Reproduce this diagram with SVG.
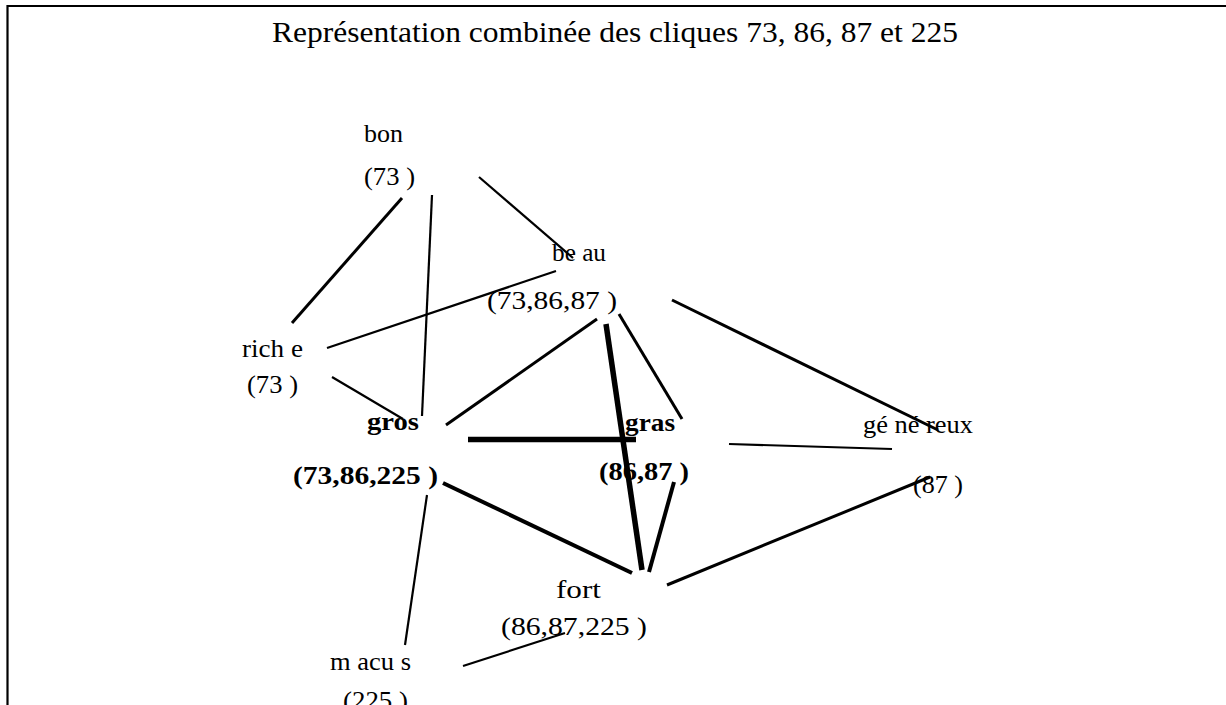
<svg xmlns="http://www.w3.org/2000/svg" width="1226" height="705" viewBox="0 0 1226 705">
<style>
text{font-family:"Liberation Serif","Times New Roman",serif;font-size:25px;fill:#000}
.b{font-weight:bold}
.t{font-size:30px}
line{stroke:#000;stroke-linecap:butt}
.w2{stroke-width:2.2}
.w3{stroke-width:3}
.w4{stroke-width:4}
.w5{stroke-width:5.5}
</style>
<rect width="1226" height="705" fill="#fff"/>
<g id="frame" fill="none" stroke="#000" stroke-width="2.2">
<polyline points="1226,6 7.5,6 7.5,705"/>
</g>
<text class="t" x="272" y="42" textLength="686" lengthAdjust="spacingAndGlyphs">Représentation combinée des cliques 73, 86, 87 et 225</text>
<g id="connectors">
<line class="w3" x1="402" y1="198" x2="292" y2="323"/>
<line class="w2" x1="432" y1="195" x2="422" y2="416"/>
<line class="w2" x1="479" y1="177" x2="573" y2="258"/>
<line class="w2" x1="327" y1="348" x2="556" y2="271"/>
<line class="w2" x1="332" y1="377" x2="403" y2="419"/>
<line class="w3" x1="597" y1="319" x2="446" y2="425"/>
<line class="w5" x1="606" y1="324" x2="642" y2="570"/>
<line class="w3" x1="619" y1="314" x2="682" y2="419"/>
<line class="w3" x1="672" y1="300" x2="938" y2="430"/>
<line class="w5" x1="468" y1="439.5" x2="636" y2="439.5"/>
<line class="w2" x1="729" y1="444" x2="892" y2="449"/>
<line class="w4" x1="443" y1="483" x2="632" y2="573"/>
<line class="w4" x1="674" y1="482" x2="649" y2="572"/>
<line class="w3" x1="667" y1="585" x2="930" y2="477"/>
<line class="w2" x1="427" y1="495" x2="405" y2="645"/>
<line class="w2" x1="463" y1="666" x2="565" y2="633"/>
</g>
<g id="bon">
<text x="364" y="142" textLength="39" lengthAdjust="spacingAndGlyphs">bon</text>
<text x="364" y="185" textLength="51" lengthAdjust="spacingAndGlyphs">(73 )</text>
</g>
<g id="beau">
<text x="552" y="261" textLength="54" lengthAdjust="spacingAndGlyphs">be au</text>
<text x="487" y="309" textLength="130" lengthAdjust="spacingAndGlyphs">(73,86,87   )</text>
</g>
<g id="riche">
<text x="242" y="357" textLength="61" lengthAdjust="spacingAndGlyphs">rich e</text>
<text x="247" y="393" textLength="51" lengthAdjust="spacingAndGlyphs">(73 )</text>
</g>
<g id="gros">
<text class="b" x="367" y="430" textLength="52" lengthAdjust="spacingAndGlyphs">gros</text>
<text class="b" x="293" y="484" textLength="145" lengthAdjust="spacingAndGlyphs">(73,86,225   )</text>
</g>
<g id="gras">
<text class="b" x="625" y="431" textLength="50" lengthAdjust="spacingAndGlyphs">gras</text>
<text class="b" x="599" y="480" textLength="90" lengthAdjust="spacingAndGlyphs">(86,87 )</text>
</g>
<g id="genereux">
<text x="863" y="433" textLength="110" lengthAdjust="spacingAndGlyphs">gé né reux</text>
<text x="913" y="493" textLength="50" lengthAdjust="spacingAndGlyphs">(87 )</text>
</g>
<g id="fort">
<text x="556" y="598" textLength="45" lengthAdjust="spacingAndGlyphs">fort</text>
<text x="501" y="635" textLength="146" lengthAdjust="spacingAndGlyphs">(86,87,225   )</text>
</g>
<g id="mauvais">
<text x="330" y="670" textLength="81" lengthAdjust="spacingAndGlyphs">m acu  s</text>
<text x="343" y="709" textLength="65" lengthAdjust="spacingAndGlyphs">(225 )</text>
</g>
</svg>
